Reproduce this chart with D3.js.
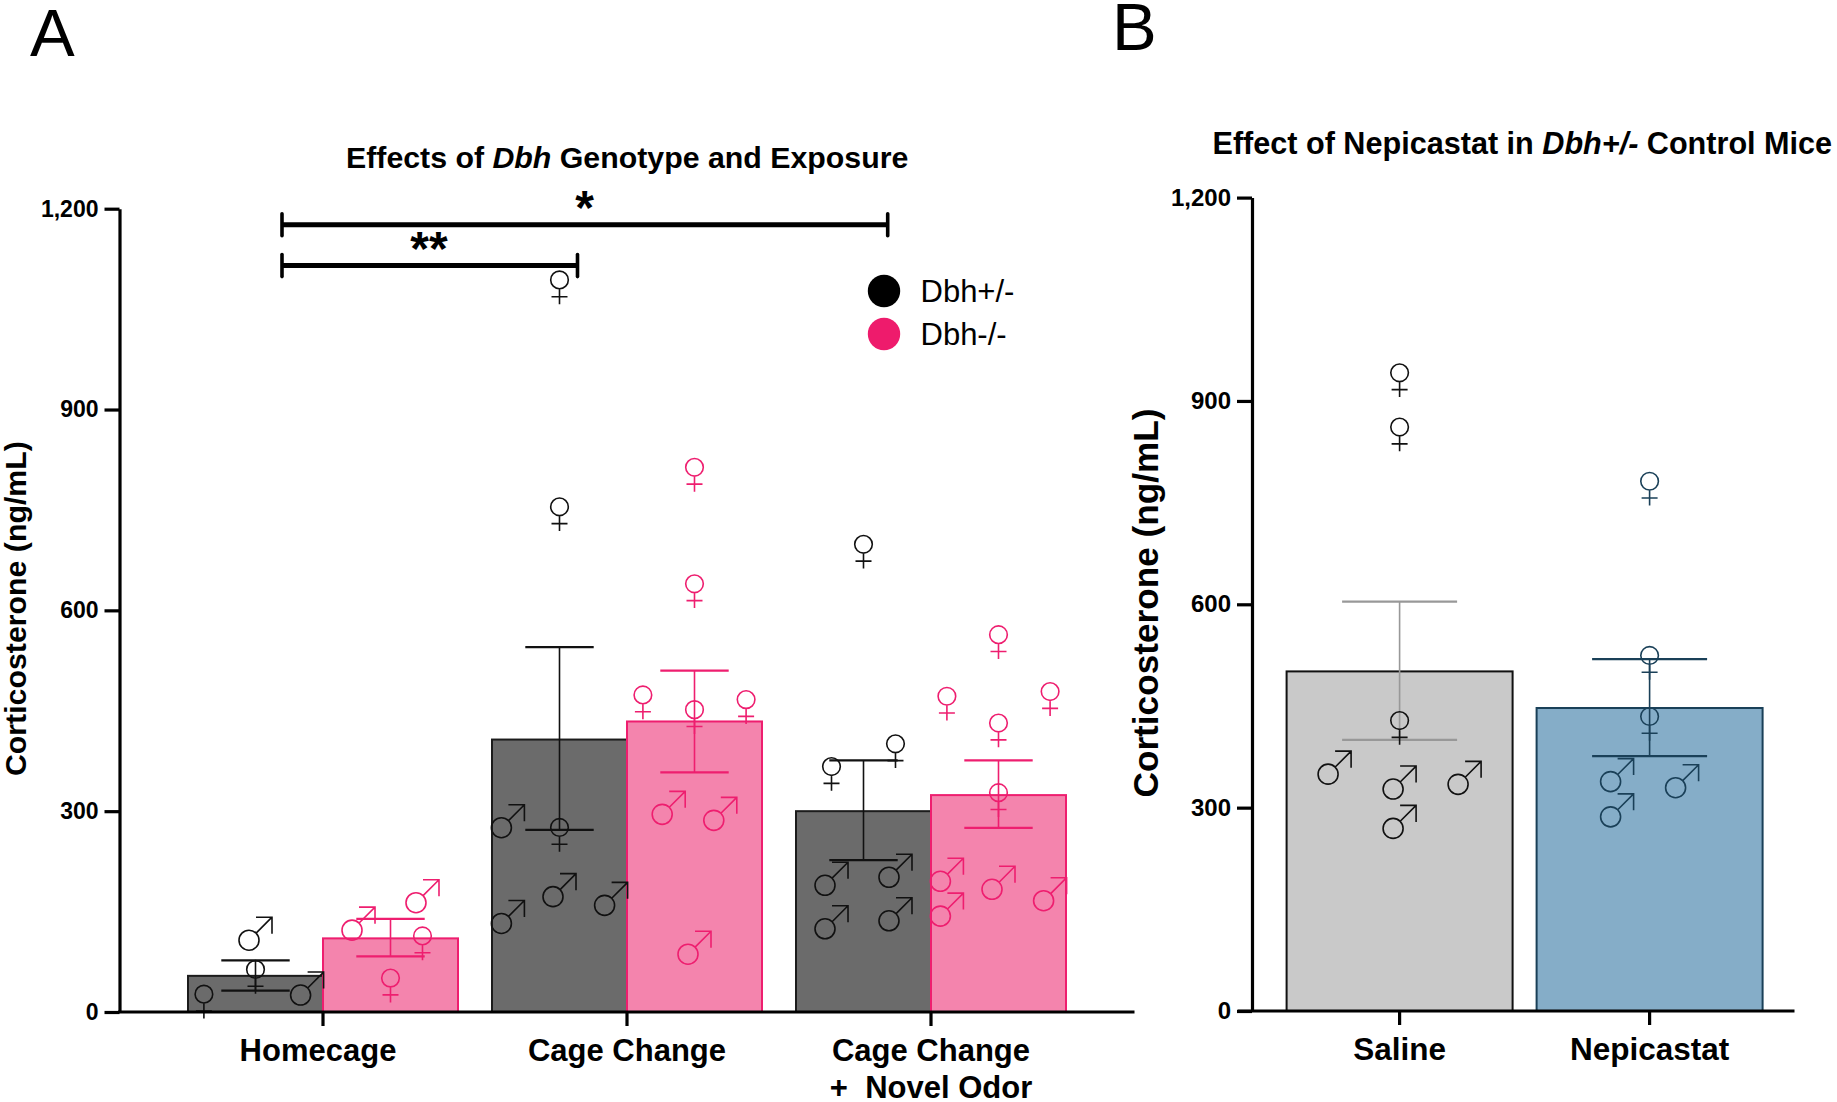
<!DOCTYPE html>
<html>
<head>
<meta charset="utf-8">
<script src="https://cdnjs.cloudflare.com/ajax/libs/d3/7.8.5/d3.min.js"></script>
<style>
  html, body { margin: 0; padding: 0; background: #fff; }
  svg { display: block; }
  text { font-family: "Liberation Sans", Arial, sans-serif; fill: #000; white-space: pre; }
</style>
</head>
<body>
<div id="chart"></div>
<script>
// panel A data
const groupsA = ['Homecage', 'Cage Change', 'Cage Change\n+  Novel Odor'];
const genotypes = ['Dbh+/-', 'Dbh-/-'];
const meanHet = [54, 407, 300];
const meanKo = [110, 434, 324];
const errHet = [[32, 77], [272, 545], [227, 376]];
const errKo = [[83, 139], [358, 510], [275, 376]];
// points are [value, column slot], slot 0 is the middle of the bar
const femaleHet = [
  [[15, -1], [52, 0]],
  [[1082, 0], [743, 0], [264, 0]],
  [[687, 0], [355, -0.62], [389, 0.62]]
];
const maleHet = [
  [[117, 0], [35, 1]],
  [[285, -1], [142, -1], [182, 0], [169, 1]],
  [[199, -0.62], [211, 0.62], [134, -0.62], [146, 0.62]]
];
const femaleKo = [
  [[102, 0.62], [39, 0]],
  [[802, 0], [628, 0], [462, -1], [440, 0], [455, 1]],
  [[552, 0], [460, -1], [467, 1], [420, 0], [316, 0]]
];
const maleKo = [
  [[132, -0.62], [173, 0.62]],
  [[305, -0.5], [296, 0.5], [96, 0]],
  [[205, -1], [153, -1], [193, 0], [176, 1]]
];

// panel B data
const groupsB = ['Saline', 'Nepicastat'];
const meanB = [501, 447];
const errB = [[400, 604], [376, 519]];
const femaleB = [
  [[930, 0], [850, 0], [417, 0]],
  [[770, 0], [513, 0], [423, 0]]
];
const maleB = [
  [[359, -1], [337, 0], [279, 0], [344, 1]],
  [[348, -0.5], [296, -0.5], [339, 0.5]]
];

const yTicks = [0, 300, 600, 900, 1200];

const svg = d3.select('#chart').append('svg')
  .attr('width', 1837)
  .attr('height', 1102);

// glyphs are 33x33 around the data point
const femalePath = d3.path();
femalePath.moveTo(8.8, -7.8);
femalePath.arc(0, -7.8, 8.8, 0, Math.PI * 2);
femalePath.moveTo(0, 1);
femalePath.lineTo(0, 16.5);
femalePath.moveTo(-8, 9);
femalePath.lineTo(8, 9);

const malePath = d3.path();
malePath.moveTo(3.5, 6.5);
malePath.arc(-6.5, 6.5, 10, 0, Math.PI * 2);
malePath.moveTo(0.6, -0.6);
malePath.lineTo(16.5, -16.5);
malePath.moveTo(0.5, -16.5);
malePath.lineTo(16.5, -16.5);
malePath.lineTo(16.5, 0);

function drawGlyphs(g, pts, path, cx, slot, y, color) {
  g.selectAll(null)
    .data(pts)
    .enter()
    .append('path')
    .attr('d', path.toString())
    .attr('transform', d => `translate(${cx + slot(d[1])},${y(d[0])})`)
    .attr('fill', 'none')
    .attr('stroke', color)
    .attr('stroke-width', 1.6);
}

function drawError(g, err, cx, capW, y, color) {
  const e = g.append('g').attr('stroke', color).attr('fill', 'none');
  e.append('line')
    .attr('x1', cx).attr('x2', cx)
    .attr('y1', y(err[0])).attr('y2', y(err[1]))
    .attr('stroke-width', 1.6);
  err.forEach(v => {
    e.append('line')
      .attr('x1', cx - capW / 2).attr('x2', cx + capW / 2)
      .attr('y1', y(v)).attr('y2', y(v))
      .attr('stroke-width', 2.2);
  });
}

function styleAxis(sel, size) {
  sel.selectAll('.domain').attr('stroke', '#000').attr('stroke-width', 3.2);
  sel.selectAll('.tick line').attr('stroke', '#000').attr('stroke-width', 3.2);
  sel.selectAll('.tick text')
    .attr('font-size', size)
    .attr('font-weight', 700);
}

function drawYAxis(axisX, y, size) {
  const ax = svg.append('g')
    .attr('transform', `translate(${axisX},0)`)
    .call(d3.axisLeft(y).tickValues(yTicks).tickFormat(d3.format(',')).tickSize(15).tickPadding(6).tickSizeOuter(0));
  styleAxis(ax, size);
}

function drawXAxis(axisX, axisEnd, x, y, size) {
  const ax = svg.append('g')
    .attr('transform', `translate(0,${y(0)})`)
    .call(d3.axisBottom(x).tickSize(14).tickPadding(13));
  styleAxis(ax, size);
  ax.select('.domain').remove();
  ax.append('line')
    .attr('x1', axisX).attr('x2', axisEnd)
    .attr('stroke', '#000').attr('stroke-width', 3.2);
  ax.selectAll('.tick text').each(function (d) {
    const t = d3.select(this);
    const parts = d.split('\n');
    t.text(null);
    parts.forEach((p, i) => {
      t.append('tspan').attr('x', d === 'Homecage' ? -5 : 0).attr('dy', i ? 36.5 : '0.71em').text(p);
    });
  });
}

// ---- panel A ----
const yA = d3.scaleLinear().domain([0, 1200]).range([1012, 208.7]);
const xA = d3.scaleBand().domain(groupsA).range([171, 1083]).paddingInner(34 / 304).paddingOuter(17 / 304);
const xSubA = d3.scaleBand().domain(genotypes).range([0, xA.bandwidth()]);
const slotA = d3.scaleLinear().domain([-1, 1]).range([-51.6, 51.6]);
const colorsFill = { 'Dbh+/-': '#6b6b6b', 'Dbh-/-': '#f484ad' };
const colorsLine = { 'Dbh+/-': '#1c1c1c', 'Dbh-/-': '#ee1e6f' };
const legendColor = { 'Dbh+/-': '#000000', 'Dbh-/-': '#ee1b6c' };

const gA = svg.append('g');
groupsA.forEach((grp, i) => {
  genotypes.forEach((gt, k) => {
    const val = k === 0 ? meanHet[i] : meanKo[i];
    const left = xA(grp) + xSubA(gt);
    gA.append('rect')
      .attr('x', left)
      .attr('y', yA(val))
      .attr('width', xSubA.bandwidth())
      .attr('height', yA(0) - yA(val))
      .attr('fill', colorsFill[gt])
      .attr('stroke', colorsLine[gt])
      .attr('stroke-width', 2);
  });
});
groupsA.forEach((grp, i) => {
  genotypes.forEach((gt, k) => {
    const cx = xA(grp) + xSubA(gt) + xSubA.bandwidth() / 2;
    const lineCol = k === 0 ? '#111' : colorsLine[gt];
    drawError(gA, k === 0 ? errHet[i] : errKo[i], cx, 68.4, yA, lineCol);
    drawGlyphs(gA, k === 0 ? femaleHet[i] : femaleKo[i], femalePath, cx, slotA, yA, lineCol);
    drawGlyphs(gA, k === 0 ? maleHet[i] : maleKo[i], malePath, cx, slotA, yA, lineCol);
  });
});

drawYAxis(119.5, yA, 23);
drawXAxis(118, 1134.5, xA, yA, 31);

// significance brackets
const sigBars = [
  { x1: 282, x2: 887.7, val: 1176, label: '*', labelX: 584.5 },
  { x1: 282, x2: 577.5, val: 1115, label: '**', labelX: 429 }
];
sigBars.forEach(b => {
  const yy = yA(b.val);
  svg.append('line').attr('x1', b.x1).attr('x2', b.x2).attr('y1', yy).attr('y2', yy)
    .attr('stroke', '#000').attr('stroke-width', 5);
  [b.x1, b.x2].forEach(xx => {
    svg.append('line').attr('x1', xx).attr('x2', xx).attr('y1', yy - 11).attr('y2', yy + 11)
      .attr('stroke', '#000').attr('stroke-width', 3.6).attr('stroke-linecap', 'round');
  });
  svg.append('text')
    .attr('x', b.labelX)
    .attr('y', yy - 1)
    .attr('text-anchor', 'middle')
    .attr('font-size', 48)
    .attr('font-weight', 700)
    .text(b.label);
});

// legend
genotypes.forEach((gt, i) => {
  svg.append('circle').attr('cx', 884).attr('cy', 291 + i * 43).attr('r', 16.2).attr('fill', legendColor[gt]);
  svg.append('text').attr('x', 920.5).attr('y', 291 + i * 43 + 11).attr('font-size', 31).text(gt);
});

// titles
const titleA = svg.append('text').attr('x', 346).attr('y', 168).attr('font-size', 30.3).attr('font-weight', 700);
titleA.append('tspan').text('Effects of ');
titleA.append('tspan').attr('font-style', 'italic').text('Dbh');
titleA.append('tspan').text(' Genotype and Exposure');

svg.append('text')
  .attr('transform', 'translate(26,608.6) rotate(-90)')
  .attr('text-anchor', 'middle')
  .attr('font-size', 30.3)
  .attr('font-weight', 700)
  .text('Corticosterone (ng/mL)');

svg.append('text').attr('x', 30).attr('y', 55.7).attr('font-size', 67).text('A');
svg.append('text').attr('x', 1112).attr('y', 50).attr('font-size', 67).text('B');

// ---- panel B ----
const yB = d3.scaleLinear().domain([0, 1200]).range([1011, 197.6]);
const xB = d3.scaleBand().domain(groupsB).range([1274.6, 1774.6]).paddingInner(24 / 250).paddingOuter(12 / 250);
const slotB = d3.scaleLinear().domain([-1, 1]).range([-65, 65]);
const fillB = ['#c9c9c9', '#85adc8'];
const lineB = ['#111111', '#1a4058'];
const errColorB = ['#989898', '#1a4058'];

const gB = svg.append('g');
groupsB.forEach((grp, i) => {
  gB.append('rect')
    .attr('x', xB(grp))
    .attr('y', yB(meanB[i]))
    .attr('width', xB.bandwidth())
    .attr('height', yB(0) - yB(meanB[i]))
    .attr('fill', fillB[i])
    .attr('stroke', lineB[i])
    .attr('stroke-width', 2);
});
groupsB.forEach((grp, i) => {
  const cx = xB(grp) + xB.bandwidth() / 2;
  drawError(gB, errB[i], cx, 115, yB, errColorB[i]);
  drawGlyphs(gB, femaleB[i], femalePath, cx, slotB, yB, lineB[i]);
  drawGlyphs(gB, maleB[i], malePath, cx, slotB, yB, lineB[i]);
});

drawYAxis(1252, yB, 24);
drawXAxis(1237.6, 1794.5, xB, yB, 31.5);

const titleB = svg.append('text').attr('x', 1212.5).attr('y', 154).attr('font-size', 30.6).attr('font-weight', 700);
titleB.append('tspan').text('Effect of Nepicastat in ');
titleB.append('tspan').attr('font-style', 'italic').text('Dbh+/-');
titleB.append('tspan').text(' Control Mice');

svg.append('text')
  .attr('transform', 'translate(1158,603) rotate(-90)')
  .attr('text-anchor', 'middle')
  .attr('font-size', 35.2)
  .attr('font-weight', 700)
  .text('Corticosterone (ng/mL)');
</script>
</body>
</html>
